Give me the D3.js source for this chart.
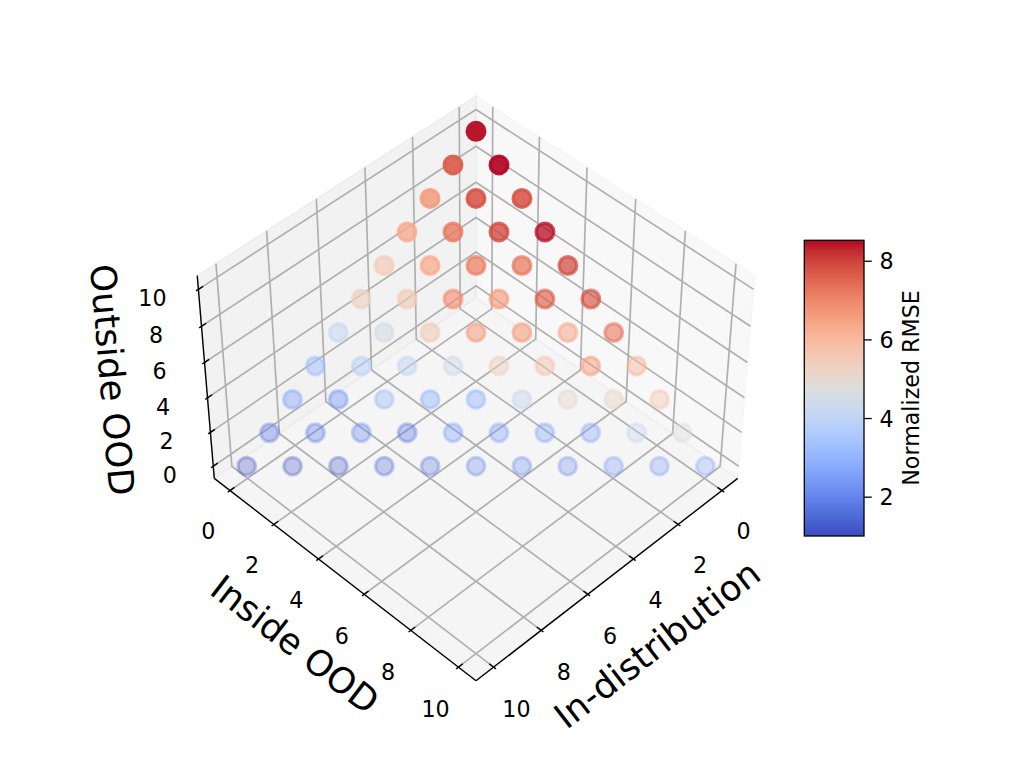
<!DOCTYPE html>
<html>
<head>
<meta charset="utf-8">
<script src="https://cdnjs.cloudflare.com/ajax/libs/d3/7.8.5/d3.min.js"></script>
<style>
body { margin: 0; background: #ffffff; }
text { font-family: "DejaVu Sans", sans-serif; fill: #000; }
</style>
</head>
<body>
<script>
//3D scatter of normalized RMSE over the mixture simplex
var w = 1027, h = 770;

//tick values (same on all three axes) and labels
var axisTicks = [0, 2, 4, 6, 8, 10];
var axisNames = ["In-distribution", "Inside OOD", "Outside OOD"];
var cbarTicks = [2, 4, 6, 8];
var cbarLabel = "Normalized RMSE";
var rmseRange = [1.0, 8.52];

//normalized RMSE for each Outside OOD level,
//ordered from In-distribution = 10 - level down to 0 (Inside OOD = 0 up to 10 - level)
var rmseOut0 = [1.0, 1.1, 1.1, 1.4, 1.6, 1.9, 2.0, 2.1, 2.4, 2.4, 2.65];
var rmseOut1 = [1.75, 1.9, 2.1, 1.75, 2.5, 2.5, 2.6, 2.65, 4.15, 4.8];
var rmseOut2 = [2.65, 2.4, 3.3, 2.95, 2.95, 4.2, 5.05, 5.2, 5.65];
var rmseOut3 = [3.25, 3.8, 4.1, 4.45, 5.3, 5.65, 6.6, 6.0];
var rmseOut4 = [4.2, 4.5, 5.5, 6.5, 6.6, 6.3, 7.3];
var rmseOut5 = [5.3, 5.5, 6.8, 6.6, 7.6, 7.8];
var rmseOut6 = [5.45, 6.35, 7.1, 7.2, 7.9];
var rmseOut7 = [6.3, 7.2, 7.9, 8.4];
var rmseOut8 = [6.6, 7.8, 7.8];
var rmseOut9 = [7.6, 8.5];
var rmseOut10 = [8.4];
var rmseRows = [rmseOut0, rmseOut1, rmseOut2, rmseOut3, rmseOut4, rmseOut5,
    rmseOut6, rmseOut7, rmseOut8, rmseOut9, rmseOut10];

//matplotlib "coolwarm" table
var cwR = [0.2298057, 0.26623388, 0.30386891, 0.342804478, 0.38301334, 0.424369608, 0.46666708, 0.509635204, 0.552953156, 0.596262162, 0.639176211, 0.681291281, 0.722193294, 0.761464949, 0.798691636, 0.833466556, 0.865395197, 0.897787179, 0.924127593, 0.944468518, 0.958852946, 0.96732803, 0.969954137, 0.966811177, 0.958003065, 0.943660866, 0.923944917, 0.89904617, 0.869186849, 0.834620542, 0.795631745, 0.752534934, 0.705673158];
var cwG = [0.298717966, 0.353094838, 0.406535296, 0.458757618, 0.50941904, 0.558148092, 0.604562568, 0.648280772, 0.688929332, 0.726149107, 0.759599947, 0.788964712, 0.813952739, 0.834302879, 0.849786142, 0.860207984, 0.86541021, 0.848937047, 0.827384882, 0.800927443, 0.769767752, 0.734132809, 0.694266682, 0.650421156, 0.602842431, 0.551750968, 0.49730856, 0.439559467, 0.378313092, 0.312874446, 0.24128379, 0.157246067, 0.01555616];
var cwB = [0.753683153, 0.801466763, 0.84495867, 0.883725899, 0.917387822, 0.945619588, 0.968154911, 0.98478814, 0.995375608, 0.999836203, 0.998151185, 0.990363227, 0.976574709, 0.956945269, 0.931688648, 0.901068838, 0.865395561, 0.820880546, 0.774508472, 0.726736146, 0.678007945, 0.628751763, 0.579375448, 0.530263762, 0.481775914, 0.434243684, 0.387970225, 0.343229596, 0.300267182, 0.259301199, 0.21993159, 0.181863206, 0.150232812];

var cwColors = cwR.map(function(r, i){
    return d3.rgb(r * 255, cwG[i] * 255, cwB[i] * 255).formatHex();
});
var cwScale = d3.scaleLinear()
    .domain(d3.range(cwColors.length).map(function(i){ return i / (cwColors.length - 1); }))
    .range(cwColors)
    .interpolate(d3.interpolateRgb)
    .clamp(true);
var norm = d3.scaleLinear().domain(rmseRange).range([0, 1]).clamp(true);
function color(v){ return cwScale(norm(v)); }

//build point list
var points = [];
rmseRows.forEach(function(row, z){
    row.forEach(function(v, i){
        points.push({ind: 10 - z - i, ins: i, out: z, value: v});
    });
});

//---- 3D projection (elev 45, azim 45, perspective) ----
var elev = 45 * Math.PI / 180, azim = 45 * Math.PI / 180, dist = 10;
var box = [1.1905, 1.1905, 0.8929];
var lo = -0.729, hi = 10.729; //pane bounds
var tickDelta = 11 / 12;
var toBox = box.map(function(b){
    return d3.scaleLinear().domain([lo, hi]).range([-b / 2, b / 2]);
});
var wv = [Math.cos(elev) * Math.cos(azim), Math.cos(elev) * Math.sin(azim), Math.sin(elev)];
var uv = [-Math.sin(azim), Math.cos(azim), 0];
var vv = [-Math.sin(elev) * Math.cos(azim), -Math.sin(elev) * Math.sin(azim), Math.cos(elev)];
function dot(a, b){ return a[0] * b[0] + a[1] * b[1] + a[2] * b[2]; }

var sx = d3.scaleLinear().domain([0, 0.1]).range([476, 476 + 320.7]);
var sy = d3.scaleLinear().domain([0, 0.1]).range([380.2, 380.2 - 320.7]);

function project(p){
    var q = [toBox[0](p[0]), toBox[1](p[1]), toBox[2](p[2])];
    var depth = dist - dot(wv, q);
    return {x: sx(dot(uv, q) / depth), y: sy(dot(vv, q) / depth), depth: depth};
}
function path3(pts, closed){
    return pts.map(function(p, i){
        var s = project(p);
        return (i ? "L" : "M") + s.x.toFixed(2) + "," + s.y.toFixed(2);
    }).join("") + (closed ? "Z" : "");
}

var svg = d3.select("body")
    .append("svg")
    .attr("width", w)
    .attr("height", h)
    .style("background-color", "#ffffff");

//panes
var panes = [
    {pts: [[lo, lo, lo], [lo, hi, lo], [lo, hi, hi], [lo, lo, hi]], fill: "rgb(242,242,242)"}, //x = min
    {pts: [[lo, lo, lo], [hi, lo, lo], [hi, lo, hi], [lo, lo, hi]], fill: "rgb(230,230,230)"}, //y = min
    {pts: [[lo, lo, lo], [hi, lo, lo], [hi, hi, lo], [lo, hi, lo]], fill: "rgb(236,236,236)"}  //z = min
];
svg.append("g").attr("class", "panes")
    .selectAll("path")
    .data(panes)
    .enter()
    .append("path")
    .attr("d", function(d){ return path3(d.pts, true); })
    .style("fill", function(d){ return d.fill; })
    .style("fill-opacity", 0.5)
    .style("stroke", function(d){ return d.fill; })
    .style("stroke-opacity", 0.5)
    .style("stroke-width", 1.6);

//grid lines
var gridLines = [];
axisTicks.forEach(function(t){
    gridLines.push([[t, hi, lo], [t, lo, lo], [t, lo, hi]]); //x ticks
    gridLines.push([[lo, t, hi], [lo, t, lo], [hi, t, lo]]); //y ticks
    gridLines.push([[hi, lo, t], [lo, lo, t], [lo, hi, t]]); //z ticks
});
svg.append("g").attr("class", "grid")
    .selectAll("path")
    .data(gridLines)
    .enter()
    .append("path")
    .attr("d", function(d){ return path3(d, false); })
    .style("fill", "none")
    .style("stroke", "#b0b0b0")
    .style("stroke-width", 1.7);

//axis lines, ticks and labels
var lblOff = 0.948, nameOff = 2.06;
var axes = [
    { //In-distribution
        line: [[lo, hi, lo], [hi, hi, lo]],
        tick: function(t, k){ return [t, hi + k * tickDelta, lo]; },
        label: function(t){ return [t, hi + lblOff, lo - lblOff]; },
        name: [5, hi + nameOff, lo - nameOff]
    },
    { //Inside OOD
        line: [[hi, lo, lo], [hi, hi, lo]],
        tick: function(t, k){ return [hi + k * tickDelta, t, lo]; },
        label: function(t){ return [hi + lblOff, t, lo - lblOff]; },
        name: [hi + nameOff, 5, lo - nameOff]
    },
    { //Outside OOD
        line: [[hi, lo, lo], [hi, lo, hi]],
        tick: function(t, k){ return [hi + k * tickDelta, lo, t]; },
        label: function(t){ return [hi + lblOff, lo - lblOff, t]; },
        name: [hi + nameOff, lo - nameOff, 5]
    }
];

var axisG = svg.append("g").attr("class", "axes3d");
axes.forEach(function(ax, i){
    axisG.append("path")
        .attr("d", path3(ax.line, false))
        .style("fill", "none")
        .style("stroke", "#000")
        .style("stroke-width", 1.4);

    axisG.selectAll(".tick" + i)
        .data(axisTicks)
        .enter()
        .append("path")
        .attr("class", "tick" + i)
        .attr("d", function(t){ return path3([ax.tick(t, 0.1), ax.tick(t, -0.2)], false); })
        .style("stroke", "#000")
        .style("stroke-width", 1.4);

    axisG.selectAll(".ticklabel" + i)
        .data(axisTicks)
        .enter()
        .append("text")
        .attr("class", "ticklabel" + i)
        .attr("x", function(t){ return project(ax.label(t)).x; })
        .attr("y", function(t){ return project(ax.label(t)).y; })
        .attr("dy", "0.76em")
        .attr("text-anchor", "middle")
        .style("font-size", "22.2px")
        .text(function(t){ return t; });

    //label rotated along the projected axis line
    var p1 = project(ax.line[0]), p2 = project(ax.line[1]);
    var ang = Math.atan2(-(p2.y - p1.y), p2.x - p1.x) * 180 / Math.PI;
    ang = ((ang % 180) + 180) % 180;
    if (ang > 90) ang -= 180;
    var np = project(ax.name);
    axisG.append("text")
        .attr("class", "axisName")
        .attr("transform", "translate(" + np.x + "," + np.y + ") rotate(" + (-ang) + ")")
        .attr("dy", "0.26em")
        .attr("text-anchor", "middle")
        .style("font-size", "35.6px")
        .text(axisNames[i]);
});

//scatter points with depth shading
points.forEach(function(d){
    var s = project([d.ind, d.ins, d.out]);
    d.px = s.x; d.py = s.y; d.depth = s.depth;
});
var dExt = d3.extent(points, function(d){ return d.depth; });
var shade = d3.scaleLinear().domain(dExt).range([1, 0.3]);
points.sort(function(a, b){ return b.depth - a.depth; });

svg.append("g").attr("class", "points")
    .selectAll("circle")
    .data(points)
    .enter()
    .append("circle")
    .attr("cx", function(d){ return d.px; })
    .attr("cy", function(d){ return d.py; })
    .attr("r", 8.85)
    .style("fill", function(d){ return color(d.value); })
    .style("stroke", function(d){ return color(d.value); })
    .style("fill-opacity", function(d){ return shade(d.depth); })
    .style("stroke-opacity", function(d){ return shade(d.depth); })
    .style("stroke-width", 3.3);

//colorbar
var cbX = 804.3, cbW = 59.7;
var cbY = d3.scaleLinear().domain(rmseRange).range([536, 240.3]);
var defs = svg.append("defs");
var grad = defs.append("linearGradient")
    .attr("id", "cbGrad")
    .attr("x1", 0).attr("y1", 1)
    .attr("x2", 0).attr("y2", 0);
grad.selectAll("stop")
    .data(cwColors)
    .enter()
    .append("stop")
    .attr("offset", function(d, i){ return i / (cwColors.length - 1); })
    .attr("stop-color", function(d){ return d; });

svg.append("rect")
    .attr("x", cbX)
    .attr("y", cbY(rmseRange[1]))
    .attr("width", cbW)
    .attr("height", cbY(rmseRange[0]) - cbY(rmseRange[1]))
    .style("fill", "url(#cbGrad)")
    .style("stroke", "#000")
    .style("stroke-width", 1.3);

var cbAxis = d3.axisRight(cbY)
    .tickValues(cbarTicks)
    .tickSize(7.8)
    .tickPadding(7.8)
    .tickFormat(d3.format("d"));
var cbG = svg.append("g")
    .attr("class", "cbaxis")
    .attr("transform", "translate(" + (cbX + cbW) + ",0)")
    .call(cbAxis);
cbG.select(".domain").remove();
cbG.selectAll("line").style("stroke", "#000").style("stroke-width", 1.3);
cbG.selectAll("text")
    .style("font-family", "DejaVu Sans, sans-serif")
    .style("font-size", "22.2px")
    .attr("dy", "0.36em");

svg.append("text")
    .attr("class", "cbLabel")
    .attr("transform", "translate(918.5,388) rotate(-90)")
    .attr("text-anchor", "middle")
    .style("font-size", "22.2px")
    .text(cbarLabel);
</script>
</body>
</html>
